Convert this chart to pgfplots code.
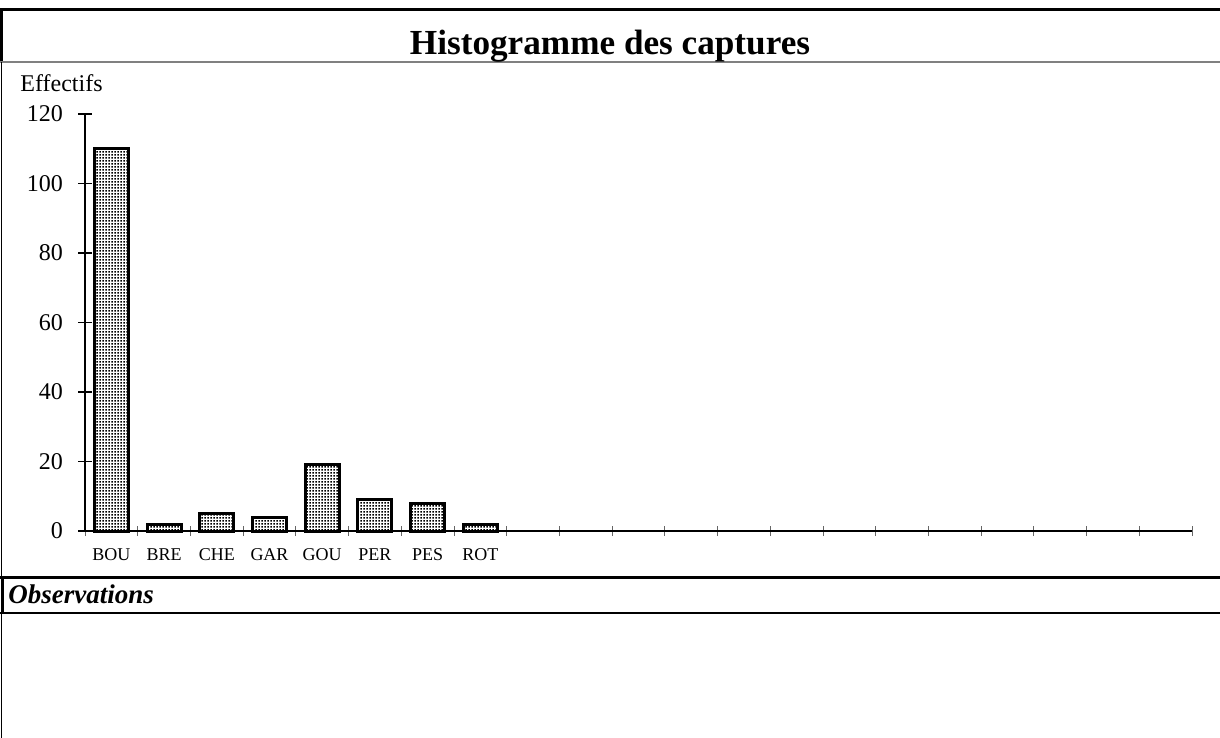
\documentclass[border=0pt]{standalone}
\usepackage{fontspec}
\setmainfont{Liberation Serif}
\usepackage{pgfplots}
\pgfplotsset{compat=1.18}
\usetikzlibrary{patterns.meta}
\pgfdeclarepattern{
  name=fdots,
  type=uncolored,
  bottom left={\pgfpoint{0pt}{0pt}},
  top right={\pgfpoint{1.5pt}{1.5pt}},
  tile size={\pgfpoint{1.5pt}{1.5pt}},
  code={\pgfpathrectangle{\pgfpoint{0.25pt}{0.25pt}}{\pgfpoint{1pt}{1pt}}\pgfusepath{fill}}
}
\begin{document}
\begin{tikzpicture}
\begin{scope}[x=0.5pt,y=-0.5pt]
\path[use as bounding box] (0,0) rectangle (1220,738);
% frame
\draw[line width=1.5pt] (0,9.7) -- (1220,9.7);
\draw[line width=1.5pt] (1.7,8.9) -- (1.7,62);
\draw[gray, line width=1pt] (0,62) -- (1220,62);
\draw[line width=0.7pt] (1.3,62) -- (1.3,577);
\draw[line width=1.5pt] (0,577.5) -- (1220,577.5);
\draw[line width=1.5pt] (2,577) -- (2,613);
\draw[line width=0.8pt] (0,613) -- (1220,613);
\draw[line width=0.7pt] (1.3,613) -- (1.3,738);
% texts
\node[anchor=base, inner sep=0pt, font=\fontsize{17.6}{20}\selectfont\bfseries] at (610,55) {Histogramme des captures};
\node[anchor=base west, inner sep=0pt, font=\fontsize{12}{14}\selectfont] at (20,92) {Effectifs};
\node[anchor=base west, inner sep=0pt, font=\fontsize{13.5}{15}\selectfont\bfseries\itshape] at (8,603) {Observations};
\end{scope}
\begin{axis}[
  at={(42.5pt,-265.5pt)}, anchor=south west,
  scale only axis, width=553.5pt, height=208.5pt,
  xmin=-0.5, xmax=20.5, ymin=0, ymax=120,
  axis lines*=left,
  axis line style={line width=0.7pt, black},
  /pgf/number format/assume math mode=true,
  ytick={0,20,...,120},
  yticklabel style={font=\fontsize{12}{14}\selectfont, xshift=-4pt},
  ytick align=center,
  ytick style={black, line width=0.6pt},
  major tick length=7pt,
  xtick={0,...,7},
  xticklabels={BOU,BRE,CHE,GAR,GOU,PER,PES,ROT},
  xticklabel style={font=\fontsize{9}{11}\selectfont, yshift=-2pt},
  xtick style={draw=none},
  minor xtick={-0.5,0.5,...,20.5},
  minor x tick style={draw=black!60, line width=0.5pt},
  minor tick length=5pt,
  xtick align=center,
  clip=false,
]
\addplot[ybar, bar width=17pt, draw=black, line width=1.5pt, pattern=fdots] coordinates {(0,110) (1,2) (2,5) (3,4) (4,19) (5,9) (6,8) (7,2)};
\end{axis}
\end{tikzpicture}
\end{document}
